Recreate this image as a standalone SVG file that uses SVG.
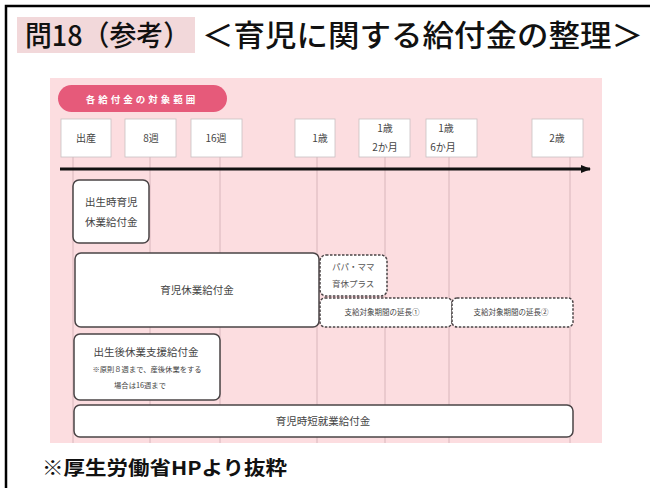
<svg xmlns="http://www.w3.org/2000/svg" width="650" height="488" viewBox="0 0 650 488">
<defs>
<style>
.jp{font-family:"Noto Sans CJK JP","Noto Sans",sans-serif}
.date{fill:#fff;stroke:#c8c0c2;stroke-width:0.8}
.dl{font-size:10px;fill:#444;text-anchor:middle}
.box{fill:#fff;stroke:#4a4446;stroke-width:1.5}
.dbox{fill:#fff;stroke:#4a4446;stroke-width:1.5;stroke-dasharray:2.5 1.5}
.bl{fill:#444;text-anchor:middle}
.vl{stroke:#d8b6bb;stroke-width:1}
</style>
<marker id="ah" markerWidth="10" markerHeight="8" refX="9" refY="4" orient="auto" markerUnits="userSpaceOnUse">
<path d="M0,0 L10,4 L0,8 Z" fill="#111"/>
</marker>
</defs>
<rect width="650" height="488" fill="#fff"/>
<path d="M6,488 V6 H650" fill="none" stroke="#000" stroke-width="2.5"/>
<g id="title">
<rect x="17" y="17" width="178" height="36" fill="#f2d8da"/>
<text class="jp" x="25" y="46" font-size="28" font-weight="500" fill="#111" textLength="165" lengthAdjust="spacingAndGlyphs">問18（参考）</text>
<text class="jp" x="202" y="46" font-size="30" font-weight="500" fill="#111" textLength="441" lengthAdjust="spacingAndGlyphs">＜育児に関する給付金の整理＞</text>
</g>
<rect x="50" y="78" width="552" height="365" fill="#fcdde0"/>
<g id="pill">
<rect x="58" y="85" width="169" height="27" rx="13.5" fill="#e65a7a"/>
<text class="jp" x="142" y="102.5" font-size="9.5" font-weight="bold" fill="#fff" text-anchor="middle" letter-spacing="3">各給付金の対象範囲</text>
</g>
<g id="connectors">
<line class="vl" x1="73" y1="157" x2="73" y2="443"/>
<line class="vl" x1="150" y1="157" x2="150" y2="443"/>
<line class="vl" x1="220" y1="157" x2="220" y2="443"/>
<line class="vl" x1="317" y1="157" x2="317" y2="443"/>
<line class="vl" x1="385" y1="157" x2="385" y2="443"/>
<line class="vl" x1="449" y1="157" x2="449" y2="443"/>
<line class="vl" x1="570" y1="157" x2="570" y2="443"/>
<line x1="60" y1="169" x2="590" y2="169" stroke="#111" stroke-width="3" marker-end="url(#ah)"/>
</g>
<g id="d-birth"><rect class="date" x="61" y="119" width="50" height="38"/><text class="jp dl" x="86" y="142">出産</text></g>
<g id="d-8w"><rect class="date" x="125" y="119" width="51" height="38"/><text class="jp dl" x="151" y="142">8週</text></g>
<g id="d-16w"><rect class="date" x="191" y="119" width="51" height="38"/><text class="jp dl" x="216" y="142">16週</text></g>
<g id="d-1y"><rect class="date" x="295" y="119" width="40" height="38"/><text class="jp dl" x="320" y="142">1歳</text></g>
<g id="d-1y2m"><rect class="date" x="359" y="119" width="51" height="38"/><text class="jp dl" x="385" y="132">1歳</text><text class="jp dl" x="385" y="151">2か月</text></g>
<g id="d-1y6m"><rect class="date" x="426" y="119" width="51" height="38"/><text class="jp dl" x="446" y="132">1歳</text><text class="jp dl" x="443" y="151">6か月</text></g>
<g id="d-2y"><rect class="date" x="532" y="119" width="51" height="38"/><text class="jp dl" x="557" y="142">2歳</text></g>
<g id="n-shusseiji">
<rect class="box" x="73" y="180" width="76" height="63" rx="6"/>
<text class="jp" x="85" y="206" font-size="10.5" fill="#444">出生時育児</text>
<text class="jp" x="85" y="226" font-size="10.5" fill="#444">休業給付金</text>
</g>
<g id="n-ikuji">
<rect class="box" x="75" y="253" width="244" height="74" rx="6"/>
<text class="jp bl" x="197" y="294" font-size="10.5">育児休業給付金</text>
</g>
<g id="n-papamama">
<rect class="dbox" x="320" y="255" width="67" height="41" rx="6"/>
<text class="jp" x="332" y="270" font-size="8.5" fill="#555">パパ・ママ</text>
<text class="jp" x="332" y="287" font-size="8.5" fill="#555">育休プラス</text>
</g>
<g id="n-ext1">
<rect class="dbox" x="320" y="298" width="132" height="29" rx="5"/>
<text class="jp bl" x="382" y="315" font-size="7.5">支給対象期間の延長①</text>
</g>
<g id="n-ext2">
<rect class="dbox" x="452" y="298" width="121" height="29" rx="5"/>
<text class="jp bl" x="511" y="315" font-size="7.5">支給対象期間の延長②</text>
</g>
<g id="n-shien">
<rect class="box" x="74" y="334" width="146" height="66" rx="6"/>
<text class="jp bl" x="146" y="356" font-size="10.5">出生後休業支援給付金</text>
<text class="jp bl" x="147" y="372" font-size="7.3">※原則８週まで、産後休業をする</text>
<text class="jp bl" x="140" y="388" font-size="7.3">場合は16週まで</text>
</g>
<g id="n-jitan">
<rect class="box" x="74" y="405" width="499" height="32" rx="6"/>
<text class="jp bl" x="323" y="425" font-size="10.5">育児時短就業給付金</text>
</g>
<g id="footer">
<text class="jp" x="42" y="475" font-size="19" font-weight="bold" fill="#111" textLength="245" lengthAdjust="spacingAndGlyphs">※厚生労働省HPより抜粋</text>
</g>
</svg>
